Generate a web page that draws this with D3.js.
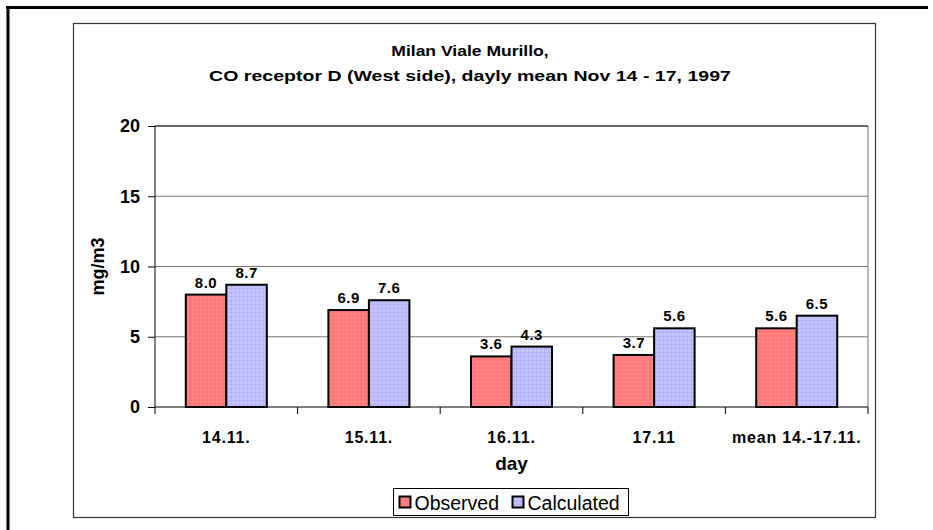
<!DOCTYPE html>
<html>
<head>
<meta charset="utf-8">
<script src="https://cdn.jsdelivr.net/npm/d3@7"></script>
<style>
  body { margin: 0; background: #fff; }
  text { font-family: "Liberation Sans", Arial, sans-serif; fill: #000; }
</style>
</head>
<body>
<div id="chart"></div>
<script>
// ── Data ────────────────────────────────────────────────────────────────
const categories = ["14.11.", "15.11.", "16.11.", "17.11", "mean 14.-17.11."];
const seriesNames = ["Observed", "Calculated"];
const observed = [8.0, 6.9, 3.6, 3.7, 5.6];
const calculated = [8.7, 7.6, 4.3, 5.6, 6.5];
const yTicks = [0, 5, 10, 15, 20];
const titleLines = [
  "Milan Viale Murillo,",
  "CO receptor D (West side), dayly mean Nov 14 - 17, 1997",
];

const seriesValues = { Observed: observed, Calculated: calculated };
const rows = categories.map((c, i) => ({
  cat: c,
  values: seriesNames.map((s) => ({ key: s, value: seriesValues[s][i] })),
}));

// ── Dimensions ──────────────────────────────────────────────────────────
const W = 933;
const H = 530;
const plot = { left: 155, right: 868, top: 126, bottom: 407 };

const svg = d3
  .select("#chart")
  .append("svg")
  .attr("width", W)
  .attr("height", H);

// ── Patterns ────────────────────────────────────────────────────────────
const defs = svg.append("defs");

const pRed = defs
  .append("pattern")
  .attr("id", "pat-red")
  .attr("patternUnits", "userSpaceOnUse")
  .attr("width", 4)
  .attr("height", 4);
pRed.append("rect").attr("width", 4).attr("height", 4).attr("fill", "#ff7b7b");
pRed.append("rect").attr("x", 1).attr("y", 1).attr("width", 1).attr("height", 1).attr("fill", "#ffa0a0");

const pBlue = defs
  .append("pattern")
  .attr("id", "pat-blue")
  .attr("patternUnits", "userSpaceOnUse")
  .attr("width", 4)
  .attr("height", 4);
pBlue.append("rect").attr("width", 4).attr("height", 4).attr("fill", "#c4c4ff");
pBlue.append("rect").attr("x", 0).attr("y", 0).attr("width", 4).attr("height", 1).attr("fill", "#b2b2f4");
pBlue.append("rect").attr("x", 0).attr("y", 0).attr("width", 1).attr("height", 4).attr("fill", "#b2b2f4");

const colors = d3.scaleOrdinal().domain(seriesNames).range(["url(#pat-red)", "url(#pat-blue)"]);

// ── Page frame (cropped) ────────────────────────────────────────────────
svg.append("line")
  .attr("x1", 6).attr("x2", 928).attr("y1", 7.5).attr("y2", 7.5)
  .attr("stroke", "#000").attr("stroke-width", 3);
svg.append("line")
  .attr("x1", 8).attr("x2", 8).attr("y1", 6).attr("y2", H)
  .attr("stroke", "#000").attr("stroke-width", 3);

// ── Chart area box ──────────────────────────────────────────────────────
svg.append("rect")
  .attr("x", 73.5).attr("y", 23.5)
  .attr("width", 802).attr("height", 494)
  .attr("fill", "#fff")
  .attr("stroke", "#333").attr("stroke-width", 1.2);

// ── Scales ──────────────────────────────────────────────────────────────
const x0 = d3.scaleBand().domain(categories).range([plot.left, plot.right]).padding(0);
const x1 = d3
  .scaleBand()
  .domain(seriesNames)
  .range([0, x0.bandwidth()])
  .paddingInner(0)
  .paddingOuter(0.76);
const y = d3.scaleLinear().domain([0, 20]).range([plot.bottom, plot.top]);

// ── Grid ────────────────────────────────────────────────────────────────
svg.append("g")
  .selectAll("line")
  .data(yTicks.filter((t) => t > 0))
  .join("line")
  .attr("x1", plot.left).attr("x2", plot.right)
  .attr("y1", (d) => y(d)).attr("y2", (d) => y(d))
  .attr("stroke", (d) => (d === 20 ? "#666" : "#777"))
  .attr("stroke-width", (d) => (d === 20 ? 2 : 1));

svg.append("line")
  .attr("x1", plot.right).attr("x2", plot.right)
  .attr("y1", plot.top).attr("y2", plot.bottom)
  .attr("stroke", "#777").attr("stroke-width", 1);

// ── Bars ────────────────────────────────────────────────────────────────
const groups = svg
  .append("g")
  .selectAll("g")
  .data(rows)
  .join("g")
  .attr("transform", (d) => `translate(${x0(d.cat)},0)`);

groups
  .selectAll("rect")
  .data((d) => d.values)
  .join("rect")
  .attr("x", (d) => x1(d.key))
  .attr("y", (d) => y(d.value))
  .attr("width", x1.bandwidth())
  .attr("height", (d) => y(0) - y(d.value))
  .attr("fill", (d) => colors(d.key))
  .attr("stroke", "#000")
  .attr("stroke-width", 2);

groups
  .selectAll("text")
  .data((d) => d.values)
  .join("text")
  .attr("x", (d) => x1(d.key) + x1.bandwidth() / 2)
  .attr("y", (d) => y(d.value) - 7)
  .attr("text-anchor", "middle")
  .style("font-size", "15px")
  .style("font-weight", "700")
  .style("letter-spacing", "0.5px")
  .text((d) => d.value.toFixed(1));

// ── Axes ────────────────────────────────────────────────────────────────
const yAxis = svg
  .append("g")
  .attr("transform", `translate(${plot.left},0)`)
  .call(d3.axisLeft(y).tickValues(yTicks).tickSize(7).tickPadding(8));
yAxis.select(".domain").attr("stroke", "#000").attr("d", `M0,${plot.top}V${plot.bottom}`);
yAxis.selectAll(".tick line").attr("stroke", "#000");
yAxis.selectAll("text")
  .style("font-family", "Liberation Sans, Arial, sans-serif")
  .style("font-size", "18px")
  .style("font-weight", "700")
  .attr("fill", "#000");

const xAxis = svg
  .append("g")
  .attr("transform", `translate(0,${plot.bottom})`);
xAxis.append("line")
  .attr("x1", plot.left).attr("x2", plot.right)
  .attr("stroke", "#000").attr("stroke-width", 1);
xAxis.selectAll(".sep")
  .data(categories.concat([null]))
  .join("line")
  .attr("class", "sep")
  .attr("x1", (d) => (d ? x0(d) : plot.right))
  .attr("x2", (d) => (d ? x0(d) : plot.right))
  .attr("y1", 0).attr("y2", 7)
  .attr("stroke", "#000");
xAxis.selectAll(".cat")
  .data(categories)
  .join("text")
  .attr("class", "cat")
  .attr("x", (d) => x0(d) + x0.bandwidth() / 2)
  .attr("y", 36)
  .attr("text-anchor", "middle")
  .style("font-size", "16px")
  .style("font-weight", "700")
  .style("letter-spacing", "0.8px")
  .text((d) => d);

// ── Axis titles ─────────────────────────────────────────────────────────
svg.append("text")
  .attr("x", (plot.left + plot.right) / 2)
  .attr("y", 470)
  .attr("text-anchor", "middle")
  .style("font-size", "19px")
  .style("font-weight", "700")
  .text("day");

svg.append("text")
  .attr("transform", `translate(104,${(plot.top + plot.bottom) / 2}) rotate(-90)`)
  .attr("text-anchor", "middle")
  .style("font-size", "18px")
  .style("font-weight", "700")
  .text("mg/m3");

// ── Title ───────────────────────────────────────────────────────────────
// the original title is set a little wider than Arial, so stretch it
const titleStretch = [1.13, 1.26];
svg.append("g")
  .selectAll("text")
  .data(titleLines)
  .join("text")
  .attr("x", 470)
  .attr("y", (d, i) => 56 + i * 24.5)
  .attr("text-anchor", "middle")
  .style("font-size", "15.5px")
  .style("font-weight", "700")
  .text((d) => d)
  .each(function (d, i) {
    const w = this.getComputedTextLength();
    d3.select(this)
      .attr("textLength", w * titleStretch[i])
      .attr("lengthAdjust", "spacingAndGlyphs");
  });

// ── Legend ──────────────────────────────────────────────────────────────
const legend = svg.append("g").attr("transform", "translate(393.5,488.5)");
legend.append("rect")
  .attr("width", 235).attr("height", 27)
  .attr("fill", "#fff").attr("stroke", "#000").attr("stroke-width", 1);

const legendX = [6, 119];
const items = legend
  .selectAll(".item")
  .data(seriesNames)
  .join("g")
  .attr("class", "item")
  .attr("transform", (d, i) => `translate(${legendX[i]},0)`);
items.append("rect")
  .attr("x", 0).attr("y", 8)
  .attr("width", 11).attr("height", 11)
  .attr("fill", (d) => colors(d))
  .attr("stroke", "#000").attr("stroke-width", 2);
items.append("text")
  .attr("x", 15).attr("y", 21)
  .style("font-size", "19.5px")
  .text((d) => d);
</script>
</body>
</html>
